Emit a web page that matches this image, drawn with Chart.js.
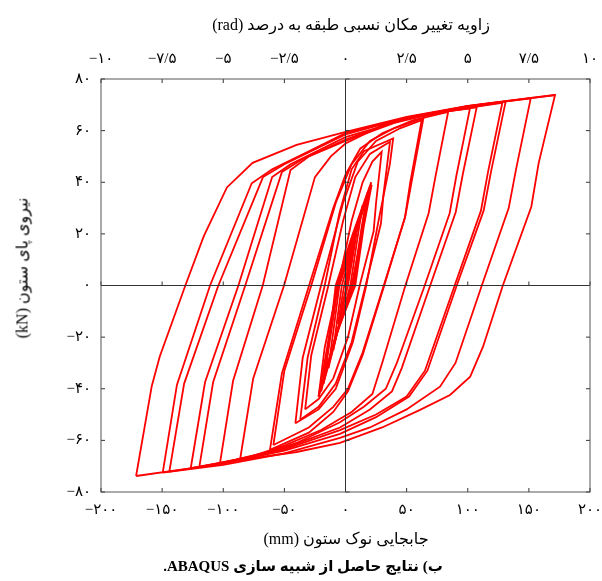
<!DOCTYPE html>
<html>
<head>
<meta charset="utf-8">
<script src="https://cdn.jsdelivr.net/npm/chart.js@4.4.0/dist/chart.umd.min.js"></script>
<style>
  html, body { margin: 0; padding: 0; background: #fff; }
  #wrap { position: relative; width: 602px; height: 581px; }
  #chart { position: absolute; left: 0; top: 0; }
  .lbl { position: absolute; font-family: "Liberation Serif", "DejaVu Sans", serif; color: #000; white-space: nowrap; }
  #topTitle { left: 351px; top: 24px; font-size: 16px; transform: translate(-50%, -50%); }
  #xTitle { left: 346px; top: 538px; font-size: 16px; transform: translate(-50%, -50%); }
  #caption { left: 303px; top: 566px; font-size: 15px; font-weight: bold; transform: translate(-50%, -50%); }
  #yTitle { left: 22px; top: 268px; font-size: 16px; transform: translate(-50%, -50%) rotate(-90deg); }
</style>
</head>
<body>
<div id="wrap">
  <canvas id="chart" width="602" height="581"></canvas>
  <div class="lbl" id="topTitle" dir="rtl">زاویه تغییر مکان نسبی طبقه به درصد (rad)</div>
  <div class="lbl" id="xTitle" dir="rtl">جابجایی نوک ستون (mm)</div>
  <div class="lbl" id="caption" dir="rtl">ب) نتایج حاصل از شبیه سازی ABAQUS.</div>
  <div class="lbl" id="yTitle" dir="rtl">نیروی پای ستون (kN)</div>
</div>
<script>
// برچسب محورها (ارقام فارسی)
const xTickLabels = ['−۲۰۰', '−۱۵۰', '−۱۰۰', '−۵۰', '۰', '۵۰', '۱۰۰', '۱۵۰', '۲۰۰'];
const topTickLabels = ['−۱۰', '−۷/۵', '−۵', '−۲/۵', '۰', '۲/۵', '۵', '۷/۵', '۱۰'];
const yTickLabels = ['−۸۰', '−۶۰', '−۴۰', '−۲۰', '۰', '۲۰', '۴۰', '۶۰', '۸۰'];

// چرخه‌های هیسترزیس: [جابجایی mm, نیرو kN]
const cycle01 = [[0,0],[3,8],[6,14],[4,8],[1,0],[-3,-8],[-6,-15]];
const cycle02 = [[-6,-15],[-4,-8],[-1,0],[4,11],[10,23],[7,14],[2,0],[-4,-12],[-10,-25]];
const cycle03 = [[-10,-25],[-7,-14],[-3,0],[5,14],[14,31],[10,19],[4,0],[-5,-15],[-14,-32]];
const cycle04 = [[-14,-32],[-10,-18],[-5,0],[6,16],[18,36],[13,22],[6,0],[-6,-17],[-18,-38]];
const cycle05 = [[-18,-38],[-13,-22],[-6,0],[8,20],[21.4,39],[15,23],[8,0],[-7,-18],[-22,-43]];
const cycle05b = [[-22,-43],[-15,-24],[-7,0],[7,20],[20,38],[14,22],[7,0],[-8,-20],[-20,-41]];
const cycle05c = [[-20,-41],[-14,-24],[-8,0],[6,20],[21,40],[15,24],[5,0],[-9,-21],[-22,-43]];
const cycle06 = [[-22,-43],[-17,-24],[-6,0],[5,25],[14,40],[22,48],[29.6,51.8],[25,32],[23,21],[11.6,0],[2,-20],[-10,-36],[-22,-44],[-33,-48]];
const cycle07 = [[-33,-48],[-28,-27],[-14,0],[-2,25],[8,42],[20,51],[36.4,55.7],[31,35],[29,24],[16.4,0],[5,-22],[-8,-38],[-22,-47],[-37,-52]];
const cycle08 = [[-37,-52],[-31,-28],[-17,0],[-5,28],[5,45],[15,52],[39,57],[36.3,47],[27,25],[17,0],[6,-22],[-8,-40],[-22,-48],[-41,-53.4]];
const cycle09 = [[-41,-53.4],[-35,-28],[-20,0],[-2,32],[10,48],[25,56],[45,61],[62.3,64.1],[53,40],[48.5,26],[31.3,0],[14,-26],[2,-40],[-10,-47],[-30,-55],[-59,-61.8]];
const cycle10 = [[-59,-61.8],[-50,-33],[-28,0],[-8,32],[5,47],[20,56],[40,61],[63.7,64.8],[54,40],[49,27],[31.7,0],[14,-27],[2,-41],[-10,-49],[-30,-57],[-61.8,-63.7]];
const cycle11 = [[-61.8,-63.7],[-52,-34],[-29.8,0],[-10,30],[0,43],[12,53],[30,59],[55,64],[84,67.3],[73.5,42],[68,28],[49,0],[30,-30],[22,-42],[5,-49],[-20,-56],[-50,-62],[-86.3,-67.6]];
const cycle12 = [[-86.3,-67.6],[-75.5,-36],[-50.3,0],[-25,42],[-12,50],[0,55],[30,62],[60,66],[101.8,68.6],[90.7,42.5],[85.2,28],[64.8,0],[42,-30],[33,-40],[15,-47],[-4.5,-53],[-40,-61],[-70,-65.5],[-102.7,-68.9]];
const cycle13 = [[-102.7,-68.9],[-92,-37],[-67.7,0],[-45,44.7],[-30,50],[0,56],[40,63],[75,67],[107.3,69],[95.9,43],[90.2,28.5],[69.3,0],[46,-32],[38,-41],[20,-48],[-4.5,-55],[-50,-63],[-90,-67.5],[-119.6,-70.4]];
const cycle14 = [[-119.6,-70.4],[-108.3,-37.5],[-82,0],[-52,44],[-35,49],[0,56.5],[40,63.5],[80,67.5],[128.3,70.8],[116.6,44],[110.8,29],[89.3,0],[65,-33],[50,-43],[25,-50],[-4.5,-56],[-50,-63.5],[-95,-68],[-126.6,-70.8]];
const cycle15 = [[-126.6,-70.8],[-114.9,-37.5],[-87.6,0],[-60,42],[-45,47],[0,57.5],[50,64.5],[90,68],[131,71.2],[119,44],[113,29],[91,0],[67,-33],[52,-43],[25,-51],[-4.5,-57.5],[-50,-64],[-100,-69],[-144.1,-72.1]];
const cycle16 = [[-144.1,-72.1],[-132,-38],[-104,0],[-67.5,42],[-50,47],[0,58.5],[50,65],[100,69.5],[151.5,72.5],[139.5,45],[133.5,30],[111.5,0],[90,-30],[77.3,-39.2],[50,-48],[20,-55],[-4.5,-59],[-50,-65],[-100,-69.5],[-149.5,-72.5]];
const cycle17 = [[-149.5,-72.5],[-137.9,-38.5],[-110.8,0],[-76.7,39.6],[-60,45],[-30,52],[0,59],[50,65],[100,69.5],[171.4,73.8],[158,47.4],[152,30.5],[128.7,0],[112.5,-23.7],[102,-35.3],[85.5,-42.4],[61,-48.2],[30,-55],[-4.5,-61],[-40,-64.5],[-86,-67.6],[-130,-71],[-171.3,-73.8]];
const cycle18 = [[-171.3,-73.8],[-158.5,-39],[-152,-27.6],[-131,0],[-116,19],[-97,38],[-76,47.5],[-40,54.5],[1,59.6],[50,65.3],[100,69.6],[140,72],[171.4,73.8]];

const cycles = [cycle01, cycle02, cycle03, cycle04, cycle05, cycle05b, cycle05c, cycle06, cycle07, cycle08, cycle09,
                cycle10, cycle11, cycle12, cycle13, cycle14, cycle15, cycle16, cycle17, cycle18];

const TICK_FONT = { family: '"Liberation Serif", "DejaVu Sans", serif', size: 15 };

// حذف فاصله‌ی اضافه‌ای که Chart.js برای برچسب‌های لبه اضافه می‌کند
function noEdgePadding(s) {
    s.paddingLeft = 0; s.paddingRight = 0; s.paddingTop = 0; s.paddingBottom = 0;
}

// قاب، خطوط صفر و تیک‌های داخلی
const framePlugin = {
    id: 'frame',
    afterDatasetsDraw(chart) {
        const { ctx, chartArea: a, scales } = chart;
        const sx = scales.x, sy = scales.y;
        const x0 = sx.getPixelForValue(0), y0 = sy.getPixelForValue(0);
        ctx.save();
        ctx.lineWidth = 1;
        ctx.strokeStyle = '#333';
        // خطوط صفر
        ctx.beginPath();
        ctx.moveTo(x0, a.top); ctx.lineTo(x0, a.bottom);
        ctx.moveTo(a.left, y0); ctx.lineTo(a.right, y0);
        ctx.stroke();
        // تیک‌ها
        ctx.beginPath();
        sx.ticks.forEach(t => {
            const px = sx.getPixelForValue(t.value);
            ctx.moveTo(px, a.top); ctx.lineTo(px, a.top + 4);
            ctx.moveTo(px, a.bottom); ctx.lineTo(px, a.bottom - 4);
            ctx.moveTo(px, y0); ctx.lineTo(px, y0 - 4);
        });
        sy.ticks.forEach(t => {
            const py = sy.getPixelForValue(t.value);
            ctx.moveTo(a.left, py); ctx.lineTo(a.left + 4, py);
            ctx.moveTo(a.right, py); ctx.lineTo(a.right - 4, py);
            ctx.moveTo(x0, py); ctx.lineTo(x0 + 4, py);
        });
        ctx.stroke();
        // قاب
        ctx.strokeStyle = '#555';
        ctx.strokeRect(a.left, a.top, a.right - a.left, a.bottom - a.top);
        ctx.restore();
    }
};

const datasets = cycles.map(c => ({
    data: c.map(([x, y]) => ({ x, y })),
    showLine: true,
    borderColor: '#ff0000',
    borderWidth: 1.8,
    pointRadius: 0,
    fill: false,
    tension: 0,
    xAxisID: 'x',
    yAxisID: 'y'
}));

new Chart(document.getElementById('chart').getContext('2d'), {
    type: 'scatter',
    data: { datasets },
    options: {
        responsive: false,
        animation: false,
        events: [],
        layout: { padding: { left: 0, right: 12, top: 0, bottom: 0 } },
        plugins: { legend: { display: false }, tooltip: { enabled: false } },
        scales: {
            x: {
                type: 'linear', position: 'bottom', min: -200, max: 200,
                grid: { display: false, drawTicks: false }, border: { display: false },
                ticks: { stepSize: 50, autoSkip: false, maxRotation: 0, padding: 9, color: '#000', font: TICK_FONT,
                         callback: (v, i) => xTickLabels[i] },
                afterFit: s => { s.height = 89; noEdgePadding(s); }
            },
            xTop: {
                type: 'linear', position: 'top', min: -10, max: 10,
                grid: { display: false, drawTicks: false }, border: { display: false },
                ticks: { stepSize: 2.5, autoSkip: false, maxRotation: 0, padding: 11, color: '#000', font: TICK_FONT,
                         callback: (v, i) => topTickLabels[i] },
                afterFit: s => { s.height = 79; noEdgePadding(s); }
            },
            y: {
                type: 'linear', position: 'left', min: -80, max: 80,
                grid: { display: false, drawTicks: false }, border: { display: false },
                ticks: { stepSize: 20, autoSkip: false, padding: 10, color: '#000', font: TICK_FONT,
                         callback: (v, i) => yTickLabels[i] },
                afterFit: s => { s.width = 101; noEdgePadding(s); }
            }
        }
    },
    plugins: [framePlugin]
});
</script>
</body>
</html>
